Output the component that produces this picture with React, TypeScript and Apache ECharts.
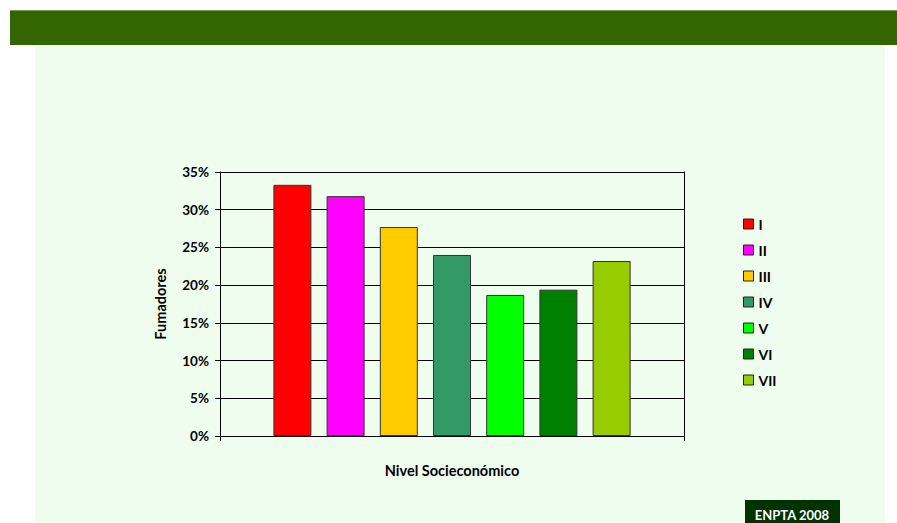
import React, { useEffect, useRef } from "react";
import * as echarts from "echarts";

const levels = ["I", "II", "III", "IV", "V", "VI", "VII"];
const smokers = [33.3, 31.8, 27.7, 24.0, 18.7, 19.4, 23.2];
const colors = ["#FF0000", "#FF00FF", "#FFCC00", "#339966", "#00FF00", "#008000", "#99CC00"];
const yTicks = [0, 5, 10, 15, 20, 25, 30, 35];

const FONT = "Lato, 'Open Sans', sans-serif";

export default function App() {
  const ref = useRef<HTMLDivElement>(null);
  useEffect(() => {
    if (!ref.current) return;
    const chart = echarts.init(ref.current, null, { renderer: "svg" });
    chart.setOption({
      animation: false,
      backgroundColor: "#FFFFFF",
      textStyle: { fontFamily: FONT },
      graphic: [
        { type: "rect", z: -10, shape: { x: 35, y: 45, width: 850, height: 478 }, style: { fill: "#EEFDEE" } },
        { type: "rect", z: -9, shape: { x: 10, y: 10, width: 887, height: 35 }, style: { fill: "#336600" } },
        { type: "rect", z: -8, shape: { x: 10, y: 10, width: 887, height: 1 }, style: { fill: "#7A9A5A" } },
        { type: "rect", z: -8, shape: { x: 745, y: 500, width: 95, height: 23 }, style: { fill: "#003300" } },
        {
          type: "text",
          x: 792,
          y: 515,
          style: {
            text: "ENPTA 2008",
            fill: "#FFFFFF",
            font: `bold 13px ${FONT}`,
            align: "center",
            verticalAlign: "middle",
          },
        },
      ],
      legend: {
        orient: "vertical",
        left: 738,
        top: 211,
        itemWidth: 10,
        itemHeight: 10,
        itemGap: 10,
        icon: "rect",
        data: levels,
        itemStyle: { borderColor: "#222222", borderWidth: 1 },
        textStyle: { fontFamily: FONT, fontWeight: "bold", fontSize: 14, color: "#000000", lineHeight: 16 },
      },
      grid: { left: 220, top: 172, width: 464, height: 264, containLabel: false },
      xAxis: {
        type: "category",
        data: [""],
        name: "Nivel Socieconómico",
        nameLocation: "middle",
        nameGap: 27,
        nameTextStyle: { fontFamily: FONT, fontWeight: "bold", fontSize: 14.5, color: "#000000" },
        axisLine: { lineStyle: { color: "#000000", width: 1 } },
        axisTick: { show: true, length: 5, lineStyle: { color: "#000000" } },
        axisLabel: { show: false },
      },
      yAxis: [
        {
          type: "value",
          min: 0,
          max: 35,
          interval: 5,
          name: "Fumadores",
          nameLocation: "middle",
          nameGap: 52,
          nameTextStyle: { fontFamily: FONT, fontWeight: "bold", fontSize: 14.5, color: "#000000" },
          axisLine: { show: true, lineStyle: { color: "#000000", width: 1 } },
          axisTick: { show: true, length: 5, lineStyle: { color: "#000000" } },
          axisLabel: {
            margin: 11,
            fontFamily: FONT,
            fontWeight: "bold",
            fontSize: 13.5,
            color: "#000000",
            customValues: yTicks,
            formatter: (v: number) => `${v}%`,
          },
          splitLine: { show: true, lineStyle: { color: "#000000", width: 1 } },
        },
        {
          type: "value",
          min: 0,
          max: 35,
          interval: 5,
          position: "right",
          axisLine: { show: true, lineStyle: { color: "#000000", width: 1 } },
          axisTick: { show: false },
          axisLabel: { show: false },
          splitLine: { show: false },
        },
      ],
      series: levels.map((name, i) => ({
        name,
        type: "bar",
        barWidth: 38,
        barGap: "40%",
        itemStyle: { color: colors[i], borderColor: "#333333", borderWidth: 1 },
        data: [smokers[i]],
      })),
    });
    return () => chart.dispose();
  }, []);
  return (
    <div
      ref={ref}
      style={{ position: "absolute", left: 0, top: 0, width: 897, height: 523 }}
    />
  );
}
